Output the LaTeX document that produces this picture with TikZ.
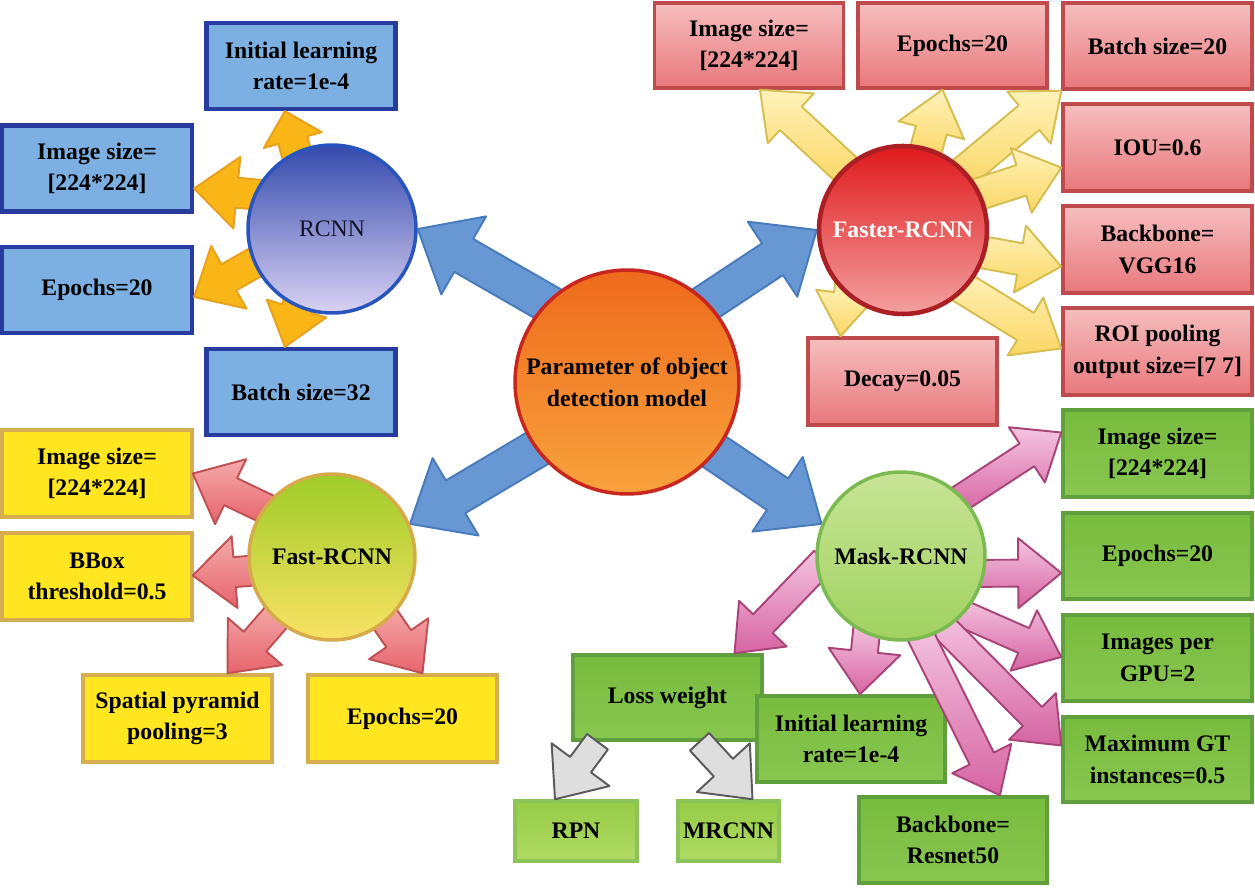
\documentclass[tikz,border=0pt]{standalone}
\usepackage{fontspec}
\setmainfont{Liberation Serif}
\usetikzlibrary{calc}
\pgfdeclarelayer{boxes}
\pgfdeclarelayer{arrs}
\pgfsetlayers{boxes,arrs,main}
% colours
\definecolor{bxBlue}{RGB}{124,176,226}
\definecolor{bxBlueD}{RGB}{40,60,160}
\definecolor{bxRedT}{RGB}{246,190,190}
\definecolor{bxRedB}{RGB}{232,120,124}
\definecolor{bxRedD}{RGB}{190,74,76}
\definecolor{bxYel}{RGB}{255,230,32}
\definecolor{bxYelD}{RGB}{214,172,80}
\definecolor{bxGrnT}{RGB}{120,188,62}
\definecolor{bxGrnB}{RGB}{136,198,80}
\definecolor{bxGrnD}{RGB}{96,160,60}
\definecolor{bxLgT}{RGB}{150,204,70}
\definecolor{bxLgB}{RGB}{176,218,100}
\definecolor{bxLgD}{RGB}{140,196,90}
\definecolor{ciRcT}{RGB}{52,74,172}
\definecolor{ciRcB}{RGB}{218,210,244}
\definecolor{ciRcD}{RGB}{40,84,190}
\definecolor{ciCeT}{RGB}{238,106,28}
\definecolor{ciCeB}{RGB}{248,162,60}
\definecolor{ciCeD}{RGB}{200,38,30}
\definecolor{ciFrT}{RGB}{222,26,28}
\definecolor{ciFrB}{RGB}{244,160,160}
\definecolor{ciFrD}{RGB}{170,30,36}
\definecolor{ciFaT}{RGB}{158,204,40}
\definecolor{ciFaB}{RGB}{250,226,100}
\definecolor{ciFaD}{RGB}{214,170,72}
\definecolor{ciMaT}{RGB}{200,228,150}
\definecolor{ciMaB}{RGB}{160,210,96}
\definecolor{ciMaD}{RGB}{122,186,80}
\definecolor{arBlue}{RGB}{104,152,212}
\definecolor{arBlueD}{RGB}{72,122,190}
\definecolor{arOr}{RGB}{250,182,22}
\definecolor{arOrD}{RGB}{232,160,30}
\definecolor{arYeT}{RGB}{255,242,186}
\definecolor{arYeB}{RGB}{250,214,100}
\definecolor{arYeD}{RGB}{214,190,80}
\definecolor{arRdT}{RGB}{244,170,170}
\definecolor{arRdB}{RGB}{230,100,108}
\definecolor{arRdD}{RGB}{192,80,82}
\definecolor{arPkT}{RGB}{244,196,224}
\definecolor{arPkB}{RGB}{214,100,162}
\definecolor{arPkD}{RGB}{168,68,120}
\definecolor{arGy}{RGB}{222,222,222}
\definecolor{arGyD}{RGB}{90,90,90}
\definecolor{txDark}{RGB}{20,20,40}
% block arrow: #1 style, #2 half shaft, #3 half head, #4 head length, #5 tail, #6 tip
\newcommand\blk[6]{%
  \coordinate (bkT) at (#5);
  \coordinate (bkH) at (#6);
  \draw[#1] ($(bkT)!#2!90:(bkH)$) -- ($(bkH)!#4!(bkT)!#2!-90:(bkT)$)
    -- ($(bkH)!#4!(bkT)!#3!-90:(bkT)$) -- (bkH)
    -- ($(bkH)!#4!(bkT)!#3!90:(bkT)$) -- ($(bkH)!#4!(bkT)!#2!90:(bkT)$)
    -- ($(bkT)!#2!-90:(bkH)$) -- cycle;}
\begin{document}
\begin{tikzpicture}[x=0.02cm,y=-0.02cm,
  font=\fontsize{13.5pt}{18pt}\selectfont\bfseries,
  box/.style={rectangle, align=center, inner sep=2pt, minimum width=3.78cm, minimum height=1.72cm, line width=2pt, text=black},
  bluebox/.style={box, draw=bxBlueD, fill=bxBlue, line width=2.4pt},
  redbox/.style={box, draw=bxRedD, top color=bxRedT, bottom color=bxRedB},
  yelbox/.style={box, draw=bxYelD, fill=bxYel},
  grnbox/.style={box, draw=bxGrnD, top color=bxGrnT, bottom color=bxGrnB},
  ltgrnbox/.style={box, draw=bxLgD, top color=bxLgT, bottom color=bxLgB, minimum height=1.2cm},
  circ/.style={circle, inner sep=0pt, align=center, line width=2pt},
  arbase/.style={line width=1.1pt, line join=round},
  bluear/.style={arbase, draw=arBlueD, fill=arBlue},
  orar/.style={arbase, draw=arOrD, fill=arOr},
  yelar/.style={arbase, draw=arYeD, top color=arYeT, bottom color=arYeB},
  redar/.style={arbase, draw=arRdD, top color=arRdT, bottom color=arRdB},
  pinkar/.style={arbase, draw=arPkD, top color=arPkT, bottom color=arPkB},
  grayar/.style={arbase, draw=arGyD, fill=arGy}]
\useasboundingbox (0,0) rectangle (1255,888);

% circles
\node[circ, minimum size=4.48cm, draw=ciCeD, top color=ciCeT, bottom color=ciCeB] (c0) at (627,382) {Parameter of object\\detection model};
\node[circ, minimum size=3.36cm, draw=ciRcD, top color=ciRcT, bottom color=ciRcB, text=txDark] (rcnn) at (332,229) {\mdseries RCNN};
\node[circ, minimum size=3.36cm, draw=ciFrD, top color=ciFrT, bottom color=ciFrB, text=white, line width=2.6pt] (faster) at (903,230) {Faster-RCNN};
\node[circ, minimum size=3.32cm, draw=ciFaD, top color=ciFaT, bottom color=ciFaB] (fast) at (332,557) {Fast-RCNN};
\node[circ, minimum size=3.36cm, draw=ciMaD, top color=ciMaT, bottom color=ciMaB] (mask) at (901,556) {Mask-RCNN};

\begin{pgfonlayer}{boxes}
% RCNN boxes
\node[bluebox] (bInit) at (301,66) {Initial learning\\rate=1e-4};
\node[bluebox, minimum width=3.8cm] (bImg) at (97,168.5) {Image size=\\{[224*224]}};
\node[bluebox, minimum width=3.8cm] (bEp) at (97,290) {Epochs=20};
\node[bluebox] (bBat) at (301,392) {Batch size=32};
% Faster boxes
\node[redbox, minimum height=1.7cm] (rImg) at (749,45.5) {Image size=\\{[224*224]}};
\node[redbox, minimum height=1.7cm] (rEp) at (952.5,45.5) {Epochs=20};
\node[redbox] (rBat) at (1157.5,46) {Batch size=20};
\node[redbox, minimum height=1.74cm] (rIOU) at (1157.5,147.5) {IOU=0.6};
\node[redbox, minimum height=1.74cm] (rBack) at (1157.5,249.5) {Backbone=\\VGG16};
\node[redbox, minimum height=1.74cm] (rROI) at (1157.5,351.5) {ROI pooling\\output size={[7 7]}};
\node[redbox, minimum height=1.74cm] (rDec) at (902.5,381.5) {Decay=0.05};
% Fast boxes
\node[yelbox, minimum width=3.8cm, minimum height=1.74cm] (yImg) at (97,473.5) {Image size=\\{[224*224]}};
\node[yelbox, minimum width=3.8cm, minimum height=1.74cm] (yBB) at (97,576.5) {BBox\\threshold=0.5};
\node[yelbox, minimum height=1.74cm] (ySp) at (177.5,718.5) {Spatial pyramid\\pooling=3};
\node[yelbox, minimum height=1.74cm] (yEp) at (402.5,718.5) {Epochs=20};
% Mask boxes
\node[grnbox, minimum height=1.74cm] (gImg) at (1157.5,453.5) {Image size=\\{[224*224]}};
\node[grnbox] (gEp) at (1157.5,556) {Epochs=20};
\node[grnbox] (gGPU) at (1157.5,658) {Images per\\GPU=2};
\node[grnbox, minimum height=1.7cm] (gMax) at (1157.5,759.5) {Maximum GT\\instances=0.5};
\node[grnbox, minimum width=3.76cm] (gBack) at (953,840) {Backbone=\\Resnet50};
\node[grnbox, minimum height=1.7cm] (gLoss) at (667.5,697.5) {Loss weight};
\node[grnbox, minimum width=3.76cm] (gInit) at (851,739) {Initial learning\\rate=1e-4};
\node[ltgrnbox, minimum width=2.44cm] (gRPN) at (576,831) {RPN};
\node[ltgrnbox, minimum width=2.02cm] (gMR) at (728.5,831) {MRCNN};
\end{pgfonlayer}

\begin{pgfonlayer}{arrs}
% centre to the four models
\blk{bluear}{0.38cm}{0.9cm}{1.06cm}{$(c0.center)!0.9!(c0.134)$}{rcnn.0}
\blk{bluear}{0.38cm}{0.9cm}{1.06cm}{$(c0.center)!0.9!(c0.46)$}{faster.180}
\blk{bluear}{0.38cm}{0.9cm}{1.06cm}{$(c0.center)!0.9!(c0.217)$}{fast.23}
\blk{bluear}{0.38cm}{0.9cm}{1.06cm}{$(c0.center)!0.9!(c0.-39)$}{mask.158}
% RCNN
\blk{orar}{0.3cm}{0.6cm}{0.6cm}{$(rcnn.center)!0.9!(rcnn.116)$}{$(bInit.south)+(-16,0)$}
\blk{orar}{0.3cm}{0.72cm}{0.86cm}{$(rcnn.center)!0.9!(rcnn.154.6)$}{$(bImg.east)+(0,20)$}
\blk{orar}{0.3cm}{0.72cm}{0.8cm}{$(rcnn.center)!0.9!(rcnn.203)$}{$(bEp.east)+(0,7)$}
\blk{orar}{0.3cm}{0.62cm}{0.8cm}{$(rcnn.center)!0.9!(rcnn.245.7)$}{$(bBat.north)+(-16,0)$}
% Faster-RCNN
\blk{yelar}{0.32cm}{0.68cm}{0.84cm}{$(faster.center)!0.9!(faster.133)$}{$(rImg.south)+(11,0)$}
\blk{yelar}{0.32cm}{0.68cm}{0.84cm}{$(faster.center)!0.9!(faster.74.6)$}{$(rEp.south)+(-10,0)$}
\blk{yelar}{0.32cm}{0.68cm}{0.84cm}{$(faster.center)!0.9!(faster.44)$}{rBat.south west}
\blk{yelar}{0.32cm}{0.68cm}{0.84cm}{$(faster.center)!0.9!(faster.26.6)$}{$(rIOU.west)+(0,20)$}
\blk{yelar}{0.32cm}{0.68cm}{0.84cm}{$(faster.center)!0.9!(faster.-16)$}{$(rBack.west)+(0,17)$}
\blk{yelar}{0.32cm}{0.68cm}{0.84cm}{$(faster.center)!0.9!(faster.-45)$}{$(rROI.west)+(0,-3)$}
\blk{yelar}{0.24cm}{0.6cm}{0.86cm}{$(faster.center)!0.9!(faster.224.5)$}{$(rDec.north)+(-62,0)$}
% Fast-RCNN
\blk{redar}{0.3cm}{0.72cm}{0.84cm}{$(fast.center)!0.9!(fast.143)$}{$(yImg.east)+(-1,0)$}
\blk{redar}{0.3cm}{0.72cm}{0.84cm}{$(fast.center)!0.9!(fast.190)$}{$(yBB.east)+(-1,-1)$}
\blk{redar}{0.3cm}{0.72cm}{0.84cm}{$(fast.center)!0.9!(fast.227)$}{$(ySp.north)+(50,0)$}
\blk{redar}{0.3cm}{0.72cm}{0.84cm}{$(fast.center)!0.9!(fast.-49)$}{$(yEp.north)+(20,0)$}
% Mask-RCNN
\blk{pinkar}{0.27cm}{0.66cm}{0.82cm}{$(mask.center)!0.9!(mask.45)$}{$(gImg.west)+(0,-21)$}
\blk{pinkar}{0.27cm}{0.7cm}{0.86cm}{$(mask.center)!0.9!(mask.-13)$}{$(gEp.west)+(0,17)$}
\blk{pinkar}{0.27cm}{0.66cm}{0.82cm}{$(mask.center)!0.9!(mask.-45)$}{$(gGPU.west)+(0,-1)$}
\blk{pinkar}{0.27cm}{0.66cm}{0.82cm}{$(mask.center)!0.9!(mask.-60)$}{$(gMax.west)+(0,-14)$}
\blk{pinkar}{0.27cm}{0.66cm}{0.82cm}{$(mask.center)!0.9!(mask.-77)$}{$(gBack.north)+(47,0)$}
\blk{pinkar}{0.27cm}{0.72cm}{0.86cm}{$(mask.center)!0.9!(mask.244)$}{$(gInit.north)+(9,0)$}
\blk{pinkar}{0.27cm}{0.66cm}{0.82cm}{$(mask.center)!0.9!(mask.183)$}{$(gLoss.north)+(67,0)$}
% Loss weight
\blk{grayar}{0.26cm}{0.72cm}{0.86cm}{$(gLoss.south)+(-70,0)$}{$(gRPN.north)+(-21,0)$}
\blk{grayar}{0.26cm}{0.72cm}{0.86cm}{$(gLoss.south)+(32,0)$}{$(gMR.north)+(24,0)$}
\end{pgfonlayer}
\end{tikzpicture}
\end{document}
